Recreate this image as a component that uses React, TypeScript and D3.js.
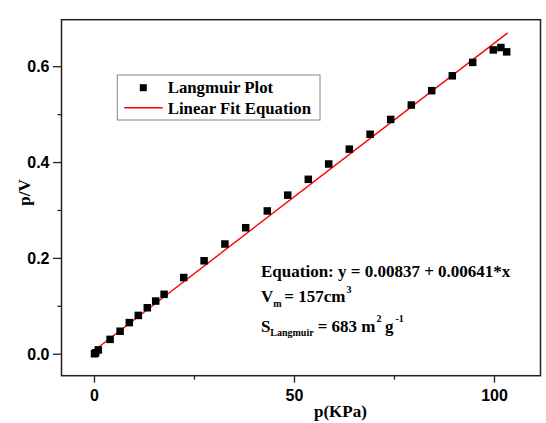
import React from "react";
import * as d3 from "d3";

const pressure = [0, 0.3, 0.95, 3.9, 6.4, 8.7, 10.95, 13.2, 15.3, 17.4, 22.3, 27.4, 32.6, 37.8, 43.2, 48.3, 53.45, 58.55, 63.7, 68.9, 74.05, 79.2, 84.3, 89.45, 94.55, 99.7, 101.6, 103.05];
const pOverV = [0.001, 0.003, 0.009, 0.031, 0.048, 0.066, 0.081, 0.097, 0.111, 0.125, 0.16, 0.195, 0.23, 0.264, 0.299, 0.332, 0.365, 0.397, 0.428, 0.459, 0.49, 0.52, 0.55, 0.581, 0.609, 0.635, 0.64, 0.631];
const fitIntercept = 0.00837;
const fitSlope = 0.00641;
const fitRange = [0, 103.3];
const xMajorTicks = [0, 50, 100];
const xMinorTicks = [25, 75];
const yMajorTicks = [0, 0.2, 0.4, 0.6];
const yMinorTicks = [0.1, 0.3, 0.5];

const W = 546;
const H = 423;
const left = 61.5, right = 540.5, top = 19.7, bottom = 375.7;

export default function App() {
  const x = d3.scaleLinear().domain([-8.25, 111.5]).range([left, right]);
  const y = d3.scaleLinear().domain([-0.0448, 0.6981]).range([bottom, top]);
  const fitLine = d3
    .line<number>()
    .x((d) => x(d))
    .y((d) => y(fitIntercept + fitSlope * d));
  const sq = 7.5;
  const serif = "'Liberation Serif', 'Times New Roman', serif";
  const sans = "'Liberation Sans', Arial, sans-serif";
  const axisColor = "#222";

  return (
    <div style={{ position: "absolute", left: 0, top: 0 }}>
      <svg width={W} height={H} style={{ display: "block", background: "#fff" }}>
        {/* fit line */}
        <path d={fitLine(fitRange) || ""} stroke="#ff0000" strokeWidth={1.4} fill="none" />
        {/* points */}
        {pressure.map((p, i) => (
          <rect key={i} x={x(p) - sq / 2} y={y(pOverV[i]) - sq / 2} width={sq} height={sq} fill="#000" />
        ))}
        {/* frame */}
        <rect x={left} y={top} width={right - left} height={bottom - top} fill="none" stroke={axisColor} strokeWidth={1.5} />
        {/* y ticks */}
        {yMajorTicks.map((t) => (
          <g key={"ym" + t}>
            <line x1={left - 8.5} x2={left} y1={y(t)} y2={y(t)} stroke={axisColor} strokeWidth={1.3} />
            <text x={49.5} y={y(t)} dy="0.36em" textAnchor="end" fontFamily={sans} fontWeight="bold" fontSize={16} fill="#000">
              {d3.format(".1f")(t)}
            </text>
          </g>
        ))}
        {yMinorTicks.map((t) => (
          <line key={"yn" + t} x1={left - 4} x2={left} y1={y(t)} y2={y(t)} stroke={axisColor} strokeWidth={1.3} />
        ))}
        {/* x ticks */}
        {xMajorTicks.map((t) => (
          <g key={"xm" + t}>
            <line x1={x(t)} x2={x(t)} y1={bottom} y2={bottom + 7} stroke={axisColor} strokeWidth={1.3} />
            <text x={x(t)} y={401} textAnchor="middle" fontFamily={sans} fontWeight="bold" fontSize={16} fill="#000">
              {t}
            </text>
          </g>
        ))}
        {xMinorTicks.map((t) => (
          <line key={"xn" + t} x1={x(t)} x2={x(t)} y1={bottom} y2={bottom + 4} stroke={axisColor} strokeWidth={1.3} />
        ))}
        {/* axis titles */}
        <text x={314} y={417} fontFamily={serif} fontWeight="bold" fontSize={17} fill="#000">
          p(KPa)
        </text>
        <text
          transform={`translate(29.5, 192.5) rotate(-90)`}
          textAnchor="middle"
          fontFamily={serif}
          fontWeight="bold"
          fontSize={17}
          fill="#000"
        >
          p/V
        </text>
        {/* legend */}
        <rect x={117.3} y={75} width={202.7} height={45} fill="#fff" stroke="#888" strokeWidth={1} />
        <rect x={143.3 - 3.5} y={87.7 - 3.5} width={7} height={7} fill="#000" />
        <line x1={124.3} x2={162.7} y1={107.7} y2={107.7} stroke="#ff0000" strokeWidth={1.4} />
        <text x={167.7} y={93.2} fontFamily={serif} fontWeight="bold" fontSize={16.8} fill="#000">
          Langmuir Plot
        </text>
        <text x={167.7} y={114} fontFamily={serif} fontWeight="bold" fontSize={16.8} fill="#000">
          Linear Fit Equation
        </text>
        {/* annotations */}
        <g fontFamily={serif} fontWeight="bold" fill="#000">
          <text x={261} y={277.3} fontSize={17}>
            Equation: y = 0.00837 + 0.00641*x
          </text>
          <text x={261} y={302} fontSize={17}>V</text>
          <text x={273.3} y={307} fontSize={10}>m</text>
          <text x={284.3} y={302} fontSize={17}>= 157cm</text>
          <text x={346.5} y={293} fontSize={10}>3</text>
          <text x={261} y={331.5} fontSize={17}>S</text>
          <text x={270.3} y={335.5} fontSize={10}>Langmuir</text>
          <text x={317.7} y={331.5} fontSize={17}>= 683 m</text>
          <text x={376.5} y={322} fontSize={10}>2</text>
          <text x={385} y={331.5} fontSize={17}>g</text>
          <text x={395.5} y={322} fontSize={10}>-1</text>
        </g>
      </svg>
    </div>
  );
}
